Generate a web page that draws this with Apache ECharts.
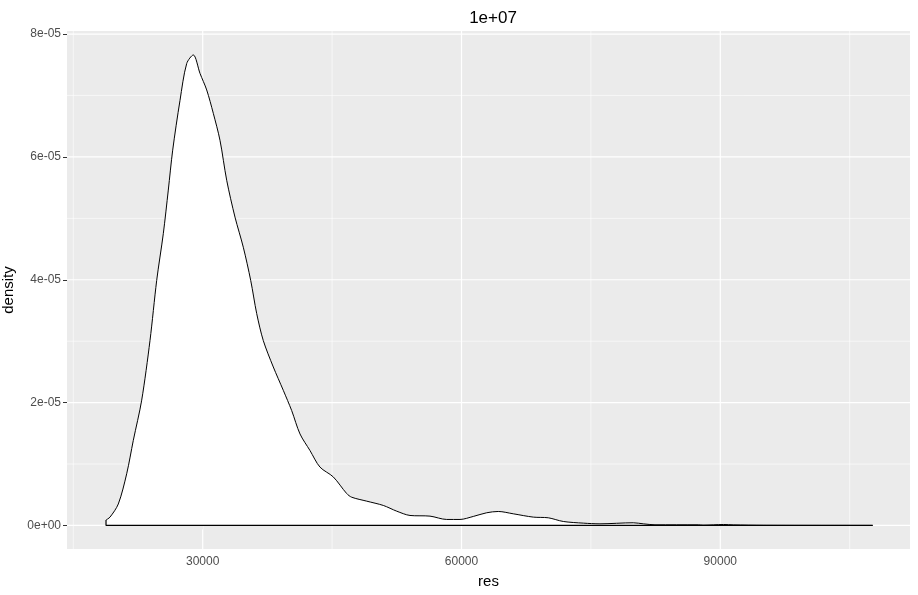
<!DOCTYPE html>
<html>
<head>
<meta charset="utf-8">
<script src="https://cdn.jsdelivr.net/npm/echarts@6/dist/echarts.min.js"></script>
<style>
  html, body { margin: 0; padding: 0; background: #ffffff; }
  #chart { width: 918px; height: 595px; }
</style>
</head>
<body>
<div id="chart"></div>
<script>
// density estimate
var resX = [18793, 19255, 20217, 21190, 21956, 22929, 23891, 24668, 25433,
  26013, 26522, 27369, 28145, 28910, 29687, 30464, 31229, 32005, 32782,
  33744, 34706, 35564, 36260, 37024, 38184, 39343, 40316, 41279, 42438,
  43597, 45139, 46692, 47271, 49010, 50935, 52488, 54029, 56348, 58284,
  59826, 61367, 62921, 64265, 66004, 68322, 70061, 71800, 74118, 76052,
  79914, 81073, 82429, 87450, 88000, 90387, 91500, 95000, 107666];
var densityY = [9.0e-7, 1.36e-6, 3.5e-6, 8.42e-6, 1.385e-5, 2.04e-5, 3.01e-5, 3.99e-5, 4.75e-5,
  5.46e-5, 6.11e-5, 6.92e-5, 7.52e-5, 7.66e-5, 7.36e-5, 7.09e-5, 6.71e-5, 6.27e-5, 5.62e-5,
  5.02e-5, 4.53e-5, 3.99e-5, 3.45e-5, 3.01e-5, 2.58e-5, 2.2e-5, 1.87e-5, 1.49e-5, 1.22e-5,
  9.5e-6, 7.9e-6, 5.2e-6, 4.6e-6, 3.96e-6, 3.26e-6, 2.33e-6, 1.63e-6, 1.52e-6, 9.8e-7,
  9.8e-7, 1.47e-6, 2.07e-6, 2.28e-6, 1.9e-6, 1.36e-6, 1.25e-6, 6.5e-7, 3.8e-7, 2.7e-7,
  4.4e-7, 2.7e-7, 1.1e-7, 1.1e-7, 5e-8, 1.6e-7, 1.0e-7, 3e-8, 1e-8];

var xTicks = [30000, 60000, 90000];
var xMinor = [15000, 45000, 75000, 105000];
var yTicks = [0, 2e-5, 4e-5, 6e-5, 8e-5];
var yTickLabels = ['0e+00', '2e-05', '4e-05', '6e-05', '8e-05'];
var yMinor = [1e-5, 3e-5, 5e-5, 7e-5];

var xMin = 14270, xMax = 111990;
var yMin = -3.83e-6, yMax = 8.05e-5;

var chart = echarts.init(document.getElementById('chart'));

var points = resX.map(function (x, i) { return [x, densityY[i]]; });
var last = resX.length - 1;

// white panel grid lines, drawn as plain line series under the density
function gridSeries(data, width) {
  return {
    type: 'line', z: 1, silent: true, symbol: 'none',
    data: data,
    lineStyle: { color: '#ffffff', width: width },
    tooltip: { show: false }
  };
}
var gridLines = [];
xMinor.forEach(function (v) { gridLines.push(gridSeries([[v, yMin], [v, yMax]], 0.6)); });
yMinor.forEach(function (v) { gridLines.push(gridSeries([[xMin, v], [xMax, v]], 0.6)); });
xTicks.forEach(function (v) { gridLines.push(gridSeries([[v, yMin], [v, yMax]], 1.2)); });
yTicks.forEach(function (v) { gridLines.push(gridSeries([[xMin, v], [xMax, v]], 1.2)); });

var option = {
  animation: false,
  backgroundColor: '#ffffff',
  textStyle: { fontFamily: 'Liberation Sans' },
  title: {
    text: '1e+07',
    left: 488,
    top: 5,
    textAlign: 'center',
    textStyle: { fontSize: 17, fontWeight: 'normal', color: '#000000', fontFamily: 'Liberation Sans' }
  },
  grid: {
    left: 67, right: 8, top: 31, bottom: 46,
    outerBoundsMode: 'none',
    containLabel: false,
    show: true, backgroundColor: '#EBEBEB', borderWidth: 0
  },
  xAxis: {
    type: 'value',
    min: xMin, max: xMax,
    name: 'res',
    nameLocation: 'middle',
    nameGap: 25,
    nameTextStyle: { fontSize: 15, color: '#000000', fontFamily: 'Liberation Sans' },
    axisLine: { show: false },
    axisTick: { show: true, length: 4, lineStyle: { color: '#333333' }, customValues: xTicks },
    axisLabel: { fontSize: 12, color: '#4D4D4D', margin: 7, customValues: xTicks,
      formatter: function (v) { return String(v); } },
    splitLine: { show: false }
  },
  yAxis: {
    type: 'value',
    min: yMin, max: yMax,
    name: 'density',
    nameLocation: 'middle',
    nameGap: 45,
    nameTextStyle: { fontSize: 15, color: '#000000', fontFamily: 'Liberation Sans' },
    axisLine: { show: false },
    axisTick: { show: true, length: 4, lineStyle: { color: '#333333' }, customValues: yTicks },
    axisLabel: { fontSize: 12, color: '#4D4D4D', margin: 6, customValues: yTicks,
      formatter: function (v) {
        var i = -1;
        for (var k = 0; k < yTicks.length; k++) { if (Math.abs(yTicks[k] - v) < 1e-9) i = k; }
        return i >= 0 ? yTickLabels[i] : '';
      } },
    splitLine: { show: false }
  },
  series: gridLines.concat([
    {
      name: 'density',
      type: 'line',
      z: 2,
      data: points,
      showSymbol: false,
      symbol: 'none',
      smooth: 0.3,
      lineStyle: { color: '#000000', width: 1 },
      areaStyle: { color: '#ffffff', opacity: 1 }
    },
    {
      // closing edge of the density polygon
      name: 'base',
      type: 'line',
      z: 3,
      data: [[resX[0], densityY[0]], [resX[0], 0], [resX[last], 0]],
      symbol: 'none',
      lineStyle: { color: '#000000', width: 1.2 }
    }
  ])
};

chart.setOption(option);
</script>
</body>
</html>
